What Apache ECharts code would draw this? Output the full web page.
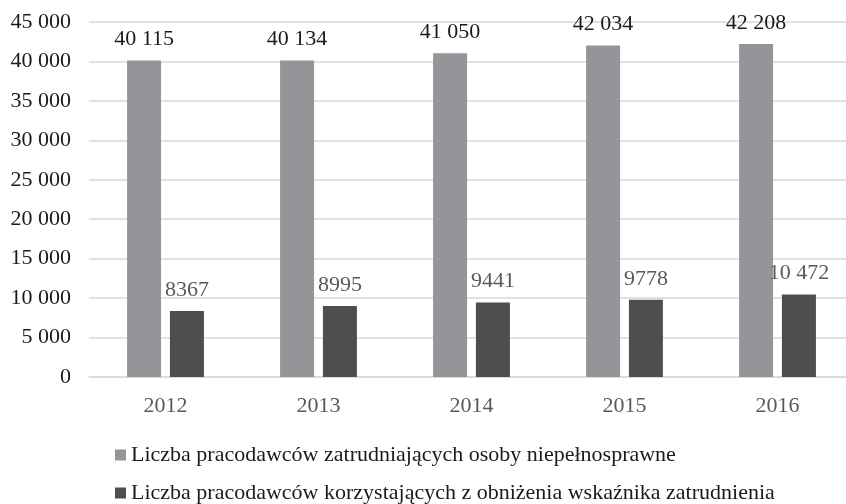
<!DOCTYPE html>
<html>
<head>
<meta charset="utf-8">
<script src="https://cdn.jsdelivr.net/npm/echarts@6/dist/echarts.min.js"></script>
<style>
  html, body { margin: 0; padding: 0; background: #fff; overflow: hidden; }
  /* wykres jest ucięty z prawej strony, jak w oryginale */
  #chart { width: 854px; height: 504px; }
</style>
</head>
<body>
<div id="chart"></div>
<script>
const years = ['2012', '2013', '2014', '2015', '2016']
const employersTotal = [40115, 40134, 41050, 42034, 42208]
const employersReduced = [8367, 8995, 9441, 9778, 10472]
const seriesNames = [
  'Liczba pracodawców zatrudniających osoby niepełnosprawne',
  'Liczba pracodawców korzystających z obniżenia wskaźnika zatrudnienia'
]

const FONT = '"Liberation Serif", "Times New Roman", serif'

// polski zapis: spacja jako separator tysięcy
const withSpace = (v) => String(v).replace(/\B(?=(\d{3})+(?!\d))/g, ' ')
const labelFmt = (p) => (p.value >= 10000 ? withSpace(p.value) : String(p.value))

const legendRow = (name, top) => ({
  orient: 'horizontal',
  left: 115,
  top: top,
  padding: 0,
  itemWidth: 11,
  itemHeight: 11,
  icon: 'rect',
  textStyle: {
    fontFamily: FONT,
    fontSize: 22,
    color: '#1a1a1a'
  },
  data: [name]
})

const chart = echarts.init(document.getElementById('chart'))

const option = {
  animation: false,
  textStyle: { fontFamily: FONT },
  grid: {
    left: 89,
    right: 0,
    top: 22,
    bottom: 127
  },
  legend: [
    legendRow(seriesNames[0], 444),
    legendRow(seriesNames[1], 482)
  ],
  xAxis: {
    type: 'category',
    data: years,
    axisLine: { lineStyle: { color: '#d9d9d9', width: 1.5 } },
    axisTick: { show: false },
    axisLabel: {
      fontFamily: FONT,
      fontSize: 22,
      color: '#595959',
      margin: 18
    }
  },
  yAxis: {
    type: 'value',
    min: 0,
    max: 45000,
    interval: 5000,
    axisLine: { show: false },
    axisTick: { show: false },
    axisLabel: {
      fontFamily: FONT,
      fontSize: 22,
      color: '#1a1a1a',
      margin: 18,
      formatter: (v) => withSpace(v)
    },
    splitLine: { lineStyle: { color: '#d9d9d9', width: 1.5 } }
  },
  series: [
    {
      name: seriesNames[0],
      type: 'bar',
      barWidth: 34,
      barGap: '26%',
      data: employersTotal,
      itemStyle: { color: '#939598' },
      label: {
        show: true,
        position: 'top',
        distance: 10,
        fontFamily: FONT,
        fontSize: 22,
        color: '#1a1a1a',
        formatter: labelFmt
      }
    },
    {
      name: seriesNames[1],
      type: 'bar',
      barWidth: 34,
      data: employersReduced,
      itemStyle: { color: '#4d4e50' },
      label: {
        show: true,
        position: 'top',
        distance: 10,
        fontFamily: FONT,
        fontSize: 22,
        color: '#595959',
        formatter: labelFmt
      }
    }
  ]
}

chart.setOption(option)
window.addEventListener('resize', () => chart.resize())
</script>
</body>
</html>
